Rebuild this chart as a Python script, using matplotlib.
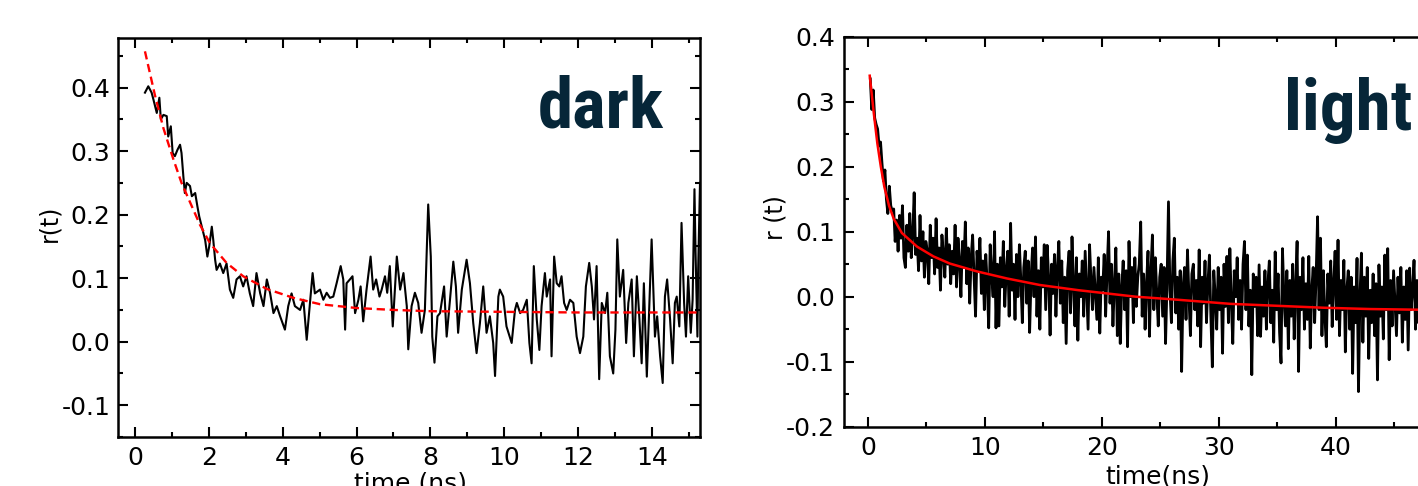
import matplotlib

matplotlib.use("Agg")
import matplotlib.pyplot as plt
import numpy as np
from matplotlib.ticker import MultipleLocator

plt.rcParams["font.family"] = ["DejaVu Sans"]
plt.rcParams["axes.unicode_minus"] = False

dark_t = [0.27, 0.36, 0.45, 0.50, 0.59, 0.66, 0.70, 0.77, 0.86, 0.90, 0.97, 1.02, 1.08, 1.15, 1.22,
          1.26, 1.31, 1.35, 1.40, 1.49, 1.54, 1.63, 1.69, 1.74, 1.81, 1.90, 1.96, 2.01, 2.08, 2.12,
          2.17, 2.21, 2.30, 2.39, 2.48, 2.57, 2.66, 2.75, 2.84, 2.93, 3.02, 3.11, 3.20, 3.29, 3.39,
          3.48, 3.57, 3.66, 3.75, 3.84, 3.93, 4.06, 4.15, 4.24, 4.33, 4.47, 4.56, 4.65, 4.74, 4.81,
          4.87, 5.01,
          5.10, 5.19, 5.28, 5.37, 5.46, 5.57, 5.64, 5.69, 5.73, 5.82, 5.89, 5.96, 6.05, 6.11, 6.18,
          6.27, 6.38, 6.45, 6.53, 6.62, 6.68, 6.77, 6.83, 6.90, 6.98, 7.09, 7.18, 7.27, 7.36, 7.40,
          7.49, 7.58, 7.67, 7.76, 7.85, 7.94, 8.01, 8.05, 8.11, 8.19, 8.26, 8.37, 8.44, 8.53, 8.62,
          8.69, 8.75, 8.85, 8.98, 9.07, 9.16, 9.25, 9.34, 9.43, 9.52, 9.61, 9.70, 9.75, 9.84, 9.88,
          9.97, 10.06, 10.20, 10.29, 10.34, 10.43, 10.51, 10.61, 10.68, 10.74, 10.80, 10.88, 10.95,
          11.01, 11.10, 11.15, 11.24, 11.28, 11.35, 11.42, 11.49, 11.55, 11.62, 11.69, 11.78, 11.87,
          11.96, 12.05, 12.14, 12.21, 12.30, 12.37, 12.43, 12.50, 12.57, 12.64, 12.73, 12.79, 12.86,
          12.95, 13.01, 13.06, 13.13, 13.22, 13.30, 13.36, 13.45, 13.51, 13.59, 13.66, 13.72, 13.78,
          13.86, 13.93, 13.99, 14.08, 14.14, 14.22, 14.29, 14.35, 14.41, 14.49, 14.56, 14.62, 14.67,
          14.74, 14.80, 14.87, 14.92, 14.98, 15.05, 15.10, 15.15, 15.18, 15.23, 15.25, 15.30]
dark_r = [0.392, 0.402, 0.392, 0.381, 0.360, 0.384, 0.350, 0.357, 0.355, 0.323, 0.339, 0.297, 0.292,
          0.302, 0.310, 0.297, 0.260, 0.234, 0.250, 0.245, 0.229, 0.234, 0.213, 0.197, 0.181, 0.160,
          0.134, 0.150, 0.181, 0.160, 0.129, 0.113, 0.123, 0.108, 0.123, 0.082, 0.069, 0.098, 0.103,
          0.087, 0.103, 0.076, 0.056, 0.108, 0.076, 0.056, 0.098, 0.076, 0.045, 0.056, 0.040, 0.019,
          0.056, 0.076, 0.056, 0.050, 0.066, 0.003, 0.061, 0.108, 0.076, 0.082,
          0.066, 0.077, 0.069, 0.071, 0.092, 0.119, 0.098, 0.019, 0.092, 0.098, 0.103, 0.045, 0.066,
          0.087, 0.032, 0.082, 0.134, 0.082, 0.098, 0.071, 0.082, 0.103, 0.077, 0.119, 0.024, 0.134,
          0.082, 0.108, 0.056, -0.012, 0.056, 0.077, 0.061, 0.014, 0.050, 0.216, 0.134, 0.008, -0.033,
          0.040, 0.045, 0.087, 0.008, 0.066, 0.126, 0.087, 0.014, 0.082, 0.129, 0.092, 0.029, -0.018,
          0.029, 0.087, 0.014, 0.040, -0.002, -0.054, 0.071, 0.082,
          0.071, 0.024, -0.002, 0.050, 0.061, 0.045, 0.050, 0.066, -0.002, -0.034, 0.119, 0.035,
          -0.013, 0.056, 0.108, 0.071, 0.098, -0.023, 0.134, 0.092, 0.087, 0.103, 0.061, 0.050, 0.066,
          0.061, 0.008, -0.018, 0.008, 0.087, 0.124, 0.087, 0.035, 0.119, -0.059, 0.061, 0.045, 0.077,
          -0.023, -0.050, 0.019, 0.161, 0.071, 0.113, -0.002, 0.061, 0.098, -0.023, 0.103, 0.035,
          -0.034, 0.092, -0.055, 0.061, 0.161, 0.008, 0.040, -0.023, -0.065, 0.071, 0.098, 0.035,
          -0.034, 0.061, 0.071, 0.024, 0.187, 0.061, 0.008, 0.103, 0.014, 0.066, 0.240, 0.140, 0.008,
          0.113, 0.250]

# dark: fitted decay (dashed red)
dark_fit_t = [0.27, 0.54, 0.77, 1.04, 1.26, 1.54, 1.76, 2.03, 2.48, 2.93, 3.57, 4.29, 5.01, 6.0,
              7.0, 8.0, 10.0, 12.0, 15.3]
dark_fit_r = [0.457, 0.388, 0.336, 0.287, 0.250, 0.213, 0.184, 0.155, 0.124, 0.103, 0.083, 0.069,
              0.059, 0.053, 0.050, 0.048, 0.047, 0.046, 0.046]

# ---- light: measured trace, sampled every 0.125 ns from 0.2 ns ----
light_t0, light_dt = 0.2, 0.125
light_r = [
    0.335, 0.288, 0.318, 0.275, 0.265, 0.258, 0.232, 0.238,
    0.205, 0.178, 0.195, 0.150, 0.128, 0.170, 0.140, 0.132,
    0.135, 0.085, 0.118, 0.070, 0.125, 0.090, 0.140, 0.060,
    0.045, 0.110, 0.070, 0.128, 0.060, 0.095, 0.160, 0.065,
    0.090, 0.040, 0.125, 0.055, 0.100, 0.030, 0.085, 0.070,
    0.020, 0.110, 0.060, 0.090, 0.035, 0.120, 0.045, 0.075,
    0.010, 0.095, 0.065, 0.030, 0.105, 0.050, 0.080, 0.020,
    0.070, 0.035, 0.110, 0.015, 0.090, 0.055, 0.000, 0.085,
    0.045, 0.115, 0.020, 0.075, -0.010, 0.060, 0.095, 0.030,
    -0.030, 0.070, 0.040, 0.090, 0.005, 0.055, -0.020, 0.065,
    0.020, -0.048, 0.080, 0.035, 0.000, 0.100, -0.048, 0.050,
    -0.045, 0.060, 0.015, 0.085, -0.015, 0.040, 0.070, -0.030,
    0.113, 0.010, 0.050, -0.035, 0.065, 0.000, 0.080, 0.025,
    -0.040, 0.045, 0.070, -0.010, 0.055, -0.055, 0.030, 0.075,
    0.000, 0.092, -0.030, 0.040, -0.050, 0.060, 0.015, 0.080,
    -0.020, 0.079, 0.030, -0.059, 0.050, 0.005, 0.065, -0.030,
    0.045, 0.085, -0.010, 0.055, -0.040, 0.030, -0.072, 0.040,
    0.070, -0.025, 0.092, 0.020, -0.045, 0.060, -0.067, 0.035,
    0.000, 0.055, -0.030, 0.070, 0.010, -0.050, 0.080, 0.025,
    -0.020, 0.045, 0.005, -0.035, 0.060, -0.056, 0.030, 0.010,
    0.065, -0.030, 0.040, 0.100, -0.010, 0.050, -0.045, 0.020,
    0.075, -0.060, 0.035, -0.072, 0.015, 0.055, -0.020, 0.040,
    -0.077, 0.085, 0.000, 0.045, -0.040, 0.060, -0.015, 0.030,
    0.050, 0.115, -0.030, 0.035, -0.050, 0.020, 0.070, -0.061,
    0.040, 0.095, -0.020, 0.060, 0.005, -0.045, 0.030, 0.050,
    -0.030, 0.045, -0.072, 0.020, 0.146, 0.010, -0.040, 0.055,
    0.090, -0.025, 0.030, -0.050, 0.040, -0.115, 0.015, 0.045,
    -0.035, 0.072, 0.000, -0.060, 0.035, 0.050, -0.020, 0.025,
    -0.045, 0.072, -0.077, 0.030, -0.010, 0.055, -0.040, 0.020,
    0.064, -0.030, -0.108, 0.040, 0.000, -0.050, 0.045, -0.020,
    0.030, -0.087, 0.050, -0.015, 0.062, -0.040, 0.074, -0.010,
    -0.072, 0.040, 0.000, 0.060, -0.035, 0.025, -0.050, 0.050,
    0.085, -0.020, 0.064, -0.045, 0.010, -0.120, 0.035, -0.015,
    0.030, -0.060, 0.049, -0.061, 0.015, -0.030, 0.040, -0.050,
    0.020, 0.055, -0.040, 0.010, -0.070, 0.069, -0.020, 0.035,
    -0.055, -0.102, 0.074, 0.000, -0.045, 0.040, -0.080, 0.025,
    -0.030, 0.050, -0.065, 0.015, 0.085, -0.115, 0.030, -0.020,
    0.060, -0.050, 0.020, -0.035, 0.062, -0.079, 0.010, 0.045,
    -0.040, 0.030, 0.123, -0.020, 0.090, -0.060, 0.040, -0.030,
    -0.077, 0.035, -0.010, 0.055, -0.046, 0.020, 0.070, -0.035,
    0.087, -0.060, 0.025, -0.020, 0.056, -0.085, 0.010, 0.040,
    -0.050, 0.030, -0.118, 0.015, -0.040, 0.059, -0.146, 0.000,
    0.067, -0.070, 0.030, -0.030, 0.045, -0.095, 0.010, -0.040,
    0.035, -0.060, 0.020, -0.128, 0.049, -0.030, 0.015, -0.065,
    0.064, -0.020, 0.074, -0.097, 0.025, -0.045, 0.040, -0.010,
    -0.060, 0.030, -0.025, 0.045, -0.070, 0.015, -0.035, 0.040,
    -0.082, 0.044, -0.020, 0.010, 0.056, -0.050, 0.025, -0.040,
    0.050, -0.030, 0.020, -0.060, 0.035, -0.015, 0.040, -0.045,
]
light_t = light_t0 + light_dt * np.arange(len(light_r))

# light: fitted decay (solid red)
light_fit_t = [0.15, 0.5, 0.8, 1.1, 1.4, 1.8, 2.2, 2.9, 4.2, 5.6, 7.0, 9.3, 11.9, 14.7, 18.0,
               22.9, 26.0, 31.0, 35.0, 39.0, 43.0, 47.0, 52.0]
light_fit_r = [0.340, 0.282, 0.236, 0.200, 0.169, 0.140, 0.120, 0.098, 0.077, 0.062, 0.051, 0.039,
               0.028, 0.018, 0.010, 0.000, -0.004, -0.011, -0.014, -0.017, -0.019, -0.020, -0.021]

TITLE_C = "#062638"
W, H = 1418, 486


def _style(ax, xmaj, xmin, ymaj, ymin):
    for s in ax.spines.values():
        s.set_linewidth(1.8)
    ax.xaxis.set_major_locator(MultipleLocator(xmaj))
    ax.xaxis.set_minor_locator(MultipleLocator(xmin))
    ax.yaxis.set_major_locator(MultipleLocator(ymaj))
    ax.yaxis.set_minor_locator(MultipleLocator(ymin))
    ax.tick_params(which="both", direction="in", top=True, right=True, width=1.5, labelsize=18)
    ax.tick_params(which="major", length=7)
    ax.tick_params(which="minor", length=3.5)
    ax.tick_params(axis="x", pad=6.5)
    ax.tick_params(axis="y", pad=5.5)


fig = plt.figure(figsize=(W / 100, H / 100), dpi=100)

# left panel: dark
ax1 = fig.add_axes([118 / W, 1 - 437 / H, 582 / W, 399 / H])
ax1.plot(dark_t, dark_r, color="black", lw=1.5)
ax1.plot(dark_fit_t, dark_fit_r, color="red", lw=1.7, ls=(0, (3.5, 2)))
ax1.set_xlim(-0.46, 15.3)
ax1.set_ylim(-0.15, 0.478)
_style(ax1, 2, 1, 0.1, 0.05)
ax1.set_yticks([-0.1, 0.0, 0.1, 0.2, 0.3, 0.4])
ax1.set_yticklabels(["-0.1", "0.0", "0.1", "0.2", "0.3", "0.4"])

# right panel: light (runs past the right edge of the picture)
ax2 = fig.add_axes([844 / W, 1 - 426.7 / H, 632 / W, 390 / H])
ax2.plot(light_t, light_r, color="black", lw=2.0)
ax2.plot(light_fit_t, light_fit_r, color="red", lw=1.8)
ax2.set_xlim(-2.05, 52)
ax2.set_ylim(-0.2, 0.4)
_style(ax2, 10, 5, 0.1, 0.05)
ax2.set_yticks([-0.2, -0.1, 0.0, 0.1, 0.2, 0.3, 0.4])
ax2.set_yticklabels(["-0.2", "-0.1", "0.0", "0.1", "0.2", "0.3", "0.4"])
ax2.tick_params(axis="y", pad=6.5)

# axis titles
fig.text(49 / W, 1 - 223 / H, "r(t)", rotation=90, ha="center", va="center", fontsize=17)
fig.text(775 / W, 1 - 218 / H, "r (t)", rotation=90, ha="center", va="center", fontsize=17)
fig.text(410 / W, 1 - 491 / H, "time (ns)", ha="center", va="baseline", fontsize=18)
fig.text(1158 / W, 1 - 483 / H, "time(ns)", ha="center", va="baseline", fontsize=18)

# panel labels, condensed bold face
lab = dict(fontsize=51, fontweight="bold", fontstretch="condensed", color=TITLE_C,
           va="baseline", ha="left",
           family=["Liberation Sans Narrow", "DejaVu Sans Condensed", "Roboto Condensed",
                   "Open Sans Condensed", "Noto Sans Condensed"])
fig.text(538 / W, 1 - 127 / H, "dark", **lab)
fig.text(1284 / W, 1 - 130 / H, "light", **lab)

fig.savefig("out.png", dpi=100)
